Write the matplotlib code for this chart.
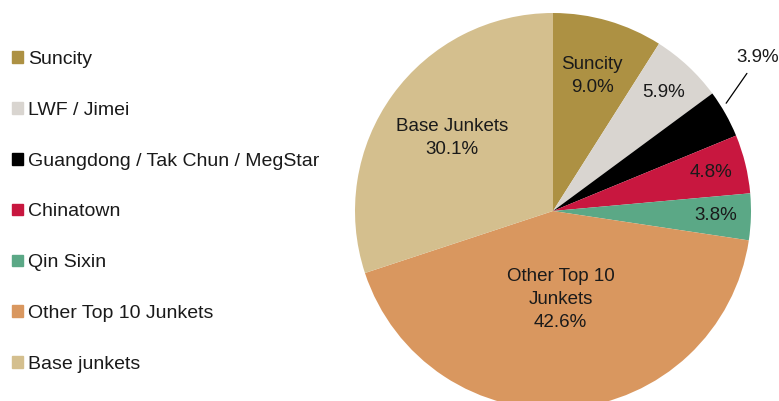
import matplotlib.pyplot as plt
import matplotlib.patches as mpatches
import numpy as np

plt.rcParams['font.family'] = ['Liberation Sans', 'DejaVu Sans']

# Junket market share
names = ['Suncity', 'LWF / Jimei', 'Guangdong / Tak Chun / MegStar', 'Chinatown',
         'Qin Sixin', 'Other Top 10 Junkets', 'Base junkets']
shares = [9.0, 5.9, 3.9, 4.8, 3.8, 42.6, 30.1]
slice_labels = ['Suncity\n9.0%', '5.9%', '3.9%', '4.8%', '3.8%',
                'Other Top 10\nJunkets\n42.6%', 'Base Junkets\n30.1%']
colors = ['#AD9143', '#D9D5D0', '#000000', '#C8173F', '#5BA886', '#D9975F', '#D4BF8E']

# label placement (radius fraction) per slice
label_r = [0.71, 0.82, None, 0.82, 0.82, 0.45, 0.63]

fig = plt.figure(figsize=(7.79, 4.01), dpi=100)
ax = fig.add_axes([355/779, -8/401, 396/779, 396/401])

wedges, _ = ax.pie(shares, colors=colors, startangle=90, counterclock=False,
                   radius=1.0, wedgeprops=dict(linewidth=0))
ax.set_xlim(-1, 1)
ax.set_ylim(-1, 1)
ax.set_aspect('equal')
ax.axis('off')
for w in wedges:
    w.set_clip_on(False)

txt_color = '#1a1a1a'
fs = 13.5
for w, lab, r in zip(wedges, slice_labels, label_r):
    mid = np.deg2rad((w.theta1 + w.theta2) / 2)
    if r is None:
        # small slice: label outside with leader line
        a = mid + np.deg2rad(2.5)
        ax.annotate(lab, xy=(1.03*np.cos(a), 1.03*np.sin(a)),
                    xytext=(1.035, 0.775), ha='center', va='center',
                    fontsize=fs, color=txt_color, annotation_clip=False,
                    arrowprops=dict(arrowstyle='-', color='black', lw=0.9,
                                    shrinkA=4, shrinkB=0))
        continue
    ax.text(r*np.cos(mid), r*np.sin(mid), lab, ha='center', va='center',
            fontsize=fs, color=txt_color, linespacing=1.45)

handles = [mpatches.Patch(color=c) for c in colors]
leg = fig.legend(handles, names, loc='upper left', bbox_to_anchor=(0.016, 0.873),
                 frameon=False, fontsize=14, handlelength=0.55, handleheight=0.55,
                 handletextpad=0.25, labelspacing=1.74, borderaxespad=0.0,
                 borderpad=0.0)
for t in leg.get_texts():
    t.set_color(txt_color)

fig.savefig('out.png', dpi=100)
